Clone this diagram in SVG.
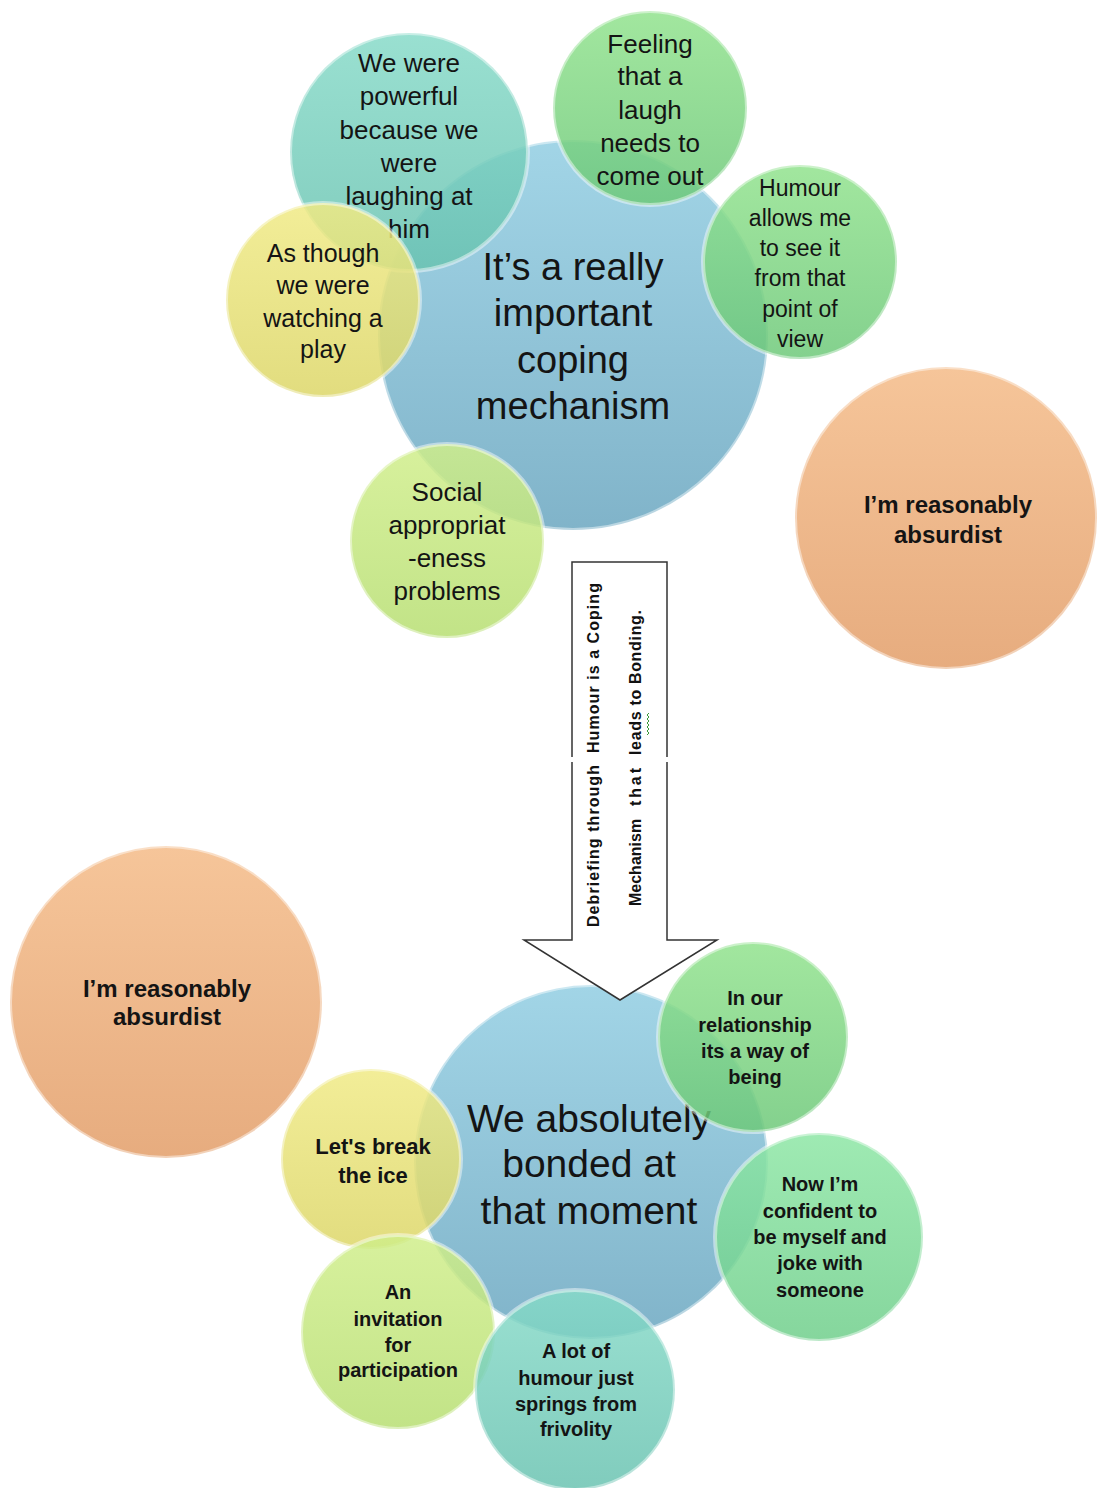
<svg xmlns="http://www.w3.org/2000/svg" width="1097" height="1488" viewBox="0 0 1097 1488">
<defs>
<linearGradient id="gBlue" x1="0" y1="0" x2="0" y2="1"><stop offset="0" stop-color="#90cde2"/><stop offset="1" stop-color="#68a5bf"/></linearGradient>
<linearGradient id="gTeal" x1="0" y1="0" x2="0" y2="1"><stop offset="0" stop-color="#86dac8"/><stop offset="1" stop-color="#68c2b0"/></linearGradient>
<linearGradient id="gGreen" x1="0" y1="0" x2="0" y2="1"><stop offset="0" stop-color="#90e28c"/><stop offset="1" stop-color="#6cc878"/></linearGradient>
<linearGradient id="gMint" x1="0" y1="0" x2="0" y2="1"><stop offset="0" stop-color="#8ce6a4"/><stop offset="1" stop-color="#6ece8a"/></linearGradient>
<linearGradient id="gYellow" x1="0" y1="0" x2="0" y2="1"><stop offset="0" stop-color="#f0ea84"/><stop offset="1" stop-color="#dcd666"/></linearGradient>
<linearGradient id="gLime" x1="0" y1="0" x2="0" y2="1"><stop offset="0" stop-color="#d0ee8a"/><stop offset="1" stop-color="#b6de70"/></linearGradient>
<linearGradient id="gOrange" x1="0" y1="0" x2="0" y2="1"><stop offset="0" stop-color="#f4ba86"/><stop offset="1" stop-color="#e29c66"/></linearGradient>
<style>
.c{fill-opacity:0.84;stroke:#ffffff;stroke-opacity:0.45;stroke-width:4}
.t{font-family:"Liberation Sans",Arial,sans-serif;fill:#141414;text-anchor:middle}
.b{font-weight:bold}
.ar{font-family:"Liberation Sans",Arial,sans-serif;font-weight:bold;font-size:16px;fill:#111}
</style>
</defs>

<!-- Top cluster -->
<g id="node-coping">
<circle class="c" cx="573" cy="335" r="195" fill="url(#gBlue)"/>
<text class="t" font-size="38"><tspan x="573" y="280">It’s a really</tspan><tspan x="573" y="326">important</tspan><tspan x="573" y="373">coping</tspan><tspan x="573" y="419">mechanism</tspan></text>
</g>
<g id="node-powerful">
<circle class="c" cx="409" cy="152" r="119" fill="url(#gTeal)"/>
<text class="t" font-size="26"><tspan x="409" y="72">We were</tspan><tspan x="409" y="105">powerful</tspan><tspan x="409" y="139">because we</tspan><tspan x="409" y="172">were</tspan><tspan x="409" y="205">laughing at</tspan><tspan x="409" y="238">him</tspan></text>
</g>
<g id="node-feeling">
<circle class="c" cx="650" cy="108" r="97" fill="url(#gGreen)"/>
<text class="t" font-size="26"><tspan x="650" y="53">Feeling</tspan><tspan x="650" y="85">that a</tspan><tspan x="650" y="119">laugh</tspan><tspan x="650" y="152">needs to</tspan><tspan x="650" y="185">come out</tspan></text>
</g>
<g id="node-humour">
<circle class="c" cx="800" cy="262" r="97" fill="url(#gGreen)"/>
<text class="t" font-size="23"><tspan x="800" y="196">Humour</tspan><tspan x="800" y="226">allows me</tspan><tspan x="800" y="256">to see it</tspan><tspan x="800" y="286">from that</tspan><tspan x="800" y="317">point of</tspan><tspan x="800" y="347">view</tspan></text>
</g>
<g id="node-play">
<circle class="c" cx="323" cy="300" r="97" fill="url(#gYellow)"/>
<text class="t" font-size="25"><tspan x="323" y="262">As though</tspan><tspan x="323" y="294">we were</tspan><tspan x="323" y="327">watching a</tspan><tspan x="323" y="358">play</tspan></text>
</g>
<g id="node-social">
<circle class="c" cx="447" cy="541" r="97" fill="url(#gLime)"/>
<text class="t" font-size="26"><tspan x="447" y="501">Social</tspan><tspan x="447" y="534">appropriat</tspan><tspan x="447" y="567">-eness</tspan><tspan x="447" y="600">problems</tspan></text>
</g>
<g id="node-absurdist-top">
<circle class="c" cx="946" cy="518" r="151" fill="url(#gOrange)"/>
<text class="t b" font-size="24"><tspan x="948" y="513">I’m reasonably</tspan><tspan x="948" y="543">absurdist</tspan></text>
</g>

<!-- Bottom cluster -->
<g id="node-absurdist-bottom">
<circle class="c" cx="166" cy="1002" r="156" fill="url(#gOrange)"/>
<text class="t b" font-size="24"><tspan x="167" y="997">I’m reasonably</tspan><tspan x="167" y="1025">absurdist</tspan></text>
</g>
<g id="node-bonded">
<circle class="c" cx="591" cy="1162" r="177" fill="url(#gBlue)"/>
<text class="t" font-size="39"><tspan x="589" y="1132">We absolutely</tspan><tspan x="589" y="1177">bonded at</tspan><tspan x="589" y="1224">that moment</tspan></text>
</g>
<g id="node-relationship">
<circle class="c" cx="753" cy="1037" r="95" fill="url(#gGreen)"/>
<text class="t b" font-size="20"><tspan x="755" y="1005">In our</tspan><tspan x="755" y="1032">relationship</tspan><tspan x="755" y="1058">its a way of</tspan><tspan x="755" y="1084">being</tspan></text>
</g>
<g id="node-confident">
<circle class="c" cx="819" cy="1237" r="104" fill="url(#gMint)"/>
<text class="t b" font-size="20"><tspan x="820" y="1191">Now I’m</tspan><tspan x="820" y="1218">confident to</tspan><tspan x="820" y="1244">be myself and</tspan><tspan x="820" y="1270">joke with</tspan><tspan x="820" y="1297">someone</tspan></text>
</g>
<g id="node-ice">
<circle class="c" cx="371" cy="1159" r="90" fill="url(#gYellow)"/>
<text class="t b" font-size="22"><tspan x="373" y="1154">Let's break</tspan><tspan x="373" y="1183">the ice</tspan></text>
</g>
<g id="node-invitation">
<circle class="c" cx="398" cy="1332" r="97" fill="url(#gLime)"/>
<text class="t b" font-size="20"><tspan x="398" y="1299">An</tspan><tspan x="398" y="1326">invitation</tspan><tspan x="398" y="1352">for</tspan><tspan x="398" y="1377">participation</tspan></text>
</g>
<g id="node-frivolity">
<circle class="c" cx="575" cy="1390" r="100" fill="url(#gTeal)"/>
<text class="t b" font-size="20"><tspan x="576" y="1358">A lot of</tspan><tspan x="576" y="1385">humour just</tspan><tspan x="576" y="1411">springs from</tspan><tspan x="576" y="1436">frivolity</tspan></text>
</g>

<!-- Connector: block arrow -->
<g id="connectors">
<path d="M572,562 L667,562 L667,940 L717,940 L620,1000 L524,940 L572,940 Z" fill="#ffffff" stroke="#333333" stroke-width="1.5" stroke-linejoin="miter"/>
<rect x="569" y="757" width="101" height="5" fill="#ffffff"/>
<text class="ar" transform="translate(599,927) rotate(-90)" textLength="162" lengthAdjust="spacing">Debriefing through</text>
<text class="ar" transform="translate(599,753) rotate(-90)" textLength="170" lengthAdjust="spacing">Humour is a Coping</text>
<text class="ar" transform="translate(641,906)rotate(-90)">Mechanism</text>
<text class="ar" transform="translate(641,806) rotate(-90)" textLength="38" lengthAdjust="spacing">that</text>
<text class="ar" transform="translate(641,755) rotate(-90)" textLength="145" lengthAdjust="spacing">leads to Bonding.</text>
<path d="M647,735 l2,-2 l-2,-2 l2,-2 l-2,-2 l2,-2 l-2,-2 l2,-2 l-2,-2 l2,-2 l-2,-2 l2,-2" fill="none" stroke="#3a9a3a" stroke-width="1"/>
</g>
</svg>
